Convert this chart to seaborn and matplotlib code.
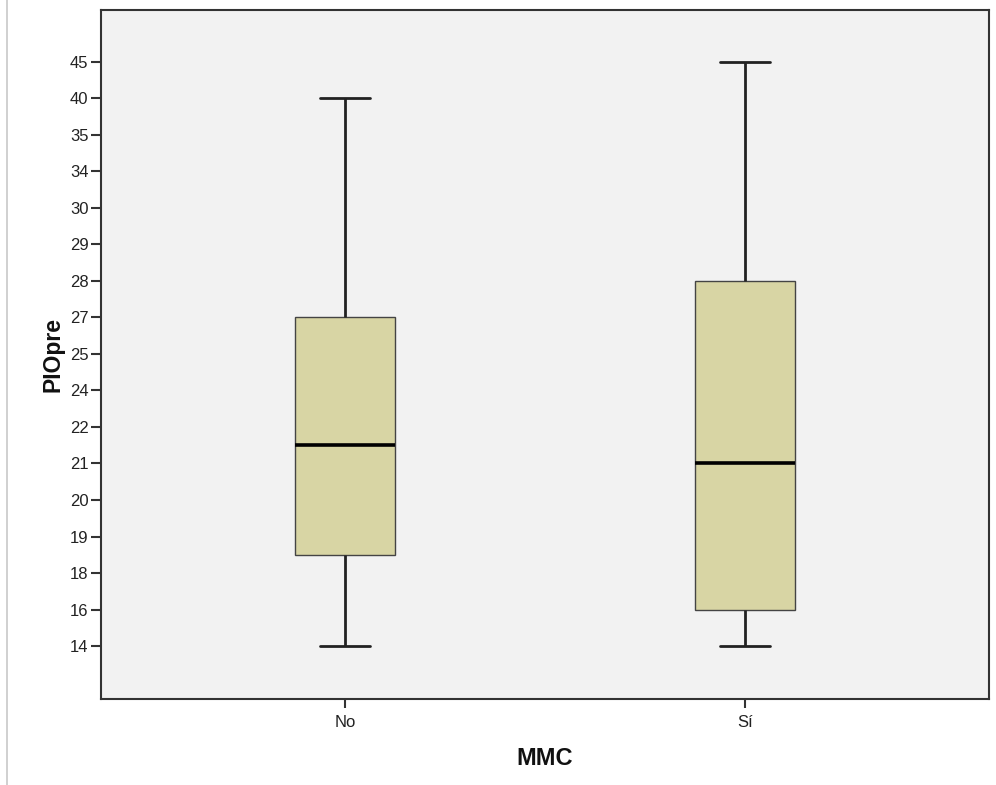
import numpy as np
import pandas as pd
import matplotlib
matplotlib.use("Agg")
import matplotlib.pyplot as plt
from matplotlib.lines import Line2D
import seaborn as sns

# Ordinal levels shown on the y axis (equally spaced, as in the SPSS chart)
levels = [14, 16, 18, 19, 20, 21, 22, 24, 25, 27, 28, 29, 30, 34, 35, 40, 45]
groups = ["No", "Sí"]
# five-number summaries (min, Q1, median, Q3, max) in PIOpre units
stats_no = [14, 18.5, 21.5, 27, 40]
stats_si = [14, 16, 21, 28, 45]

sns.set_theme(style="white")
plt.rcParams['font.family'] = ['Liberation Sans', 'DejaVu Sans']

pos = np.arange(len(levels))
rows = []
for g, s in zip(groups, [stats_no, stats_si]):
    for v in s:
        rows.append({"MMC": g, "rank": float(np.interp(v, levels, pos))})
df = pd.DataFrame(rows)

fig = plt.figure(figsize=(9.96, 7.85), dpi=100)
ax = fig.add_axes([101/996, 1-699/785, (989-101)/996, (699-10)/785])
ax.set_facecolor("#F2F2F2")

sns.boxplot(data=df, x="MMC", y="rank", order=groups, whis=np.inf, width=0.25,
            color="#D8D5A4", linecolor="#222222", linewidth=1.4, saturation=1,
            medianprops=dict(color="black", linewidth=2.6),
            capprops=dict(color="#222222", linewidth=2),
            whiskerprops=dict(color="#222222", linewidth=2),
            ax=ax)
for p in ax.patches:
    p.set_edgecolor("#444444")
    p.set_linewidth(1.0)

ax.set_ylim(-1.45, 17.42)
ax.set_xlim(-0.61, 1.61)
ax.set_yticks(pos)
ax.set_yticklabels([str(l) for l in levels], fontsize=12, color="#222222")
ax.set_xticks([0, 1])
ax.set_xticklabels(groups, fontsize=12, color="#222222")
ax.tick_params(axis="y", direction="out", length=7, width=1.5, color="#333333", left=True, pad=2)
ax.tick_params(axis="x", direction="out", length=6.5, width=1.5, color="#333333", bottom=True, pad=5)
for sp in ax.spines.values():
    sp.set_visible(True)
    sp.set_color("#333333")
    sp.set_linewidth(1.5)
ax.set_ylabel("PIOpre", fontsize=16.5, fontweight="bold", labelpad=4, color="#111111")
ax.set_xlabel("MMC", fontsize=17, fontweight="bold", labelpad=12, color="#111111")

fig.add_artist(Line2D([7/996, 7/996], [0, 1], color="#C8C8C8", linewidth=1.2, transform=fig.transFigure))

fig.savefig("out.png", dpi=100, facecolor="white")
